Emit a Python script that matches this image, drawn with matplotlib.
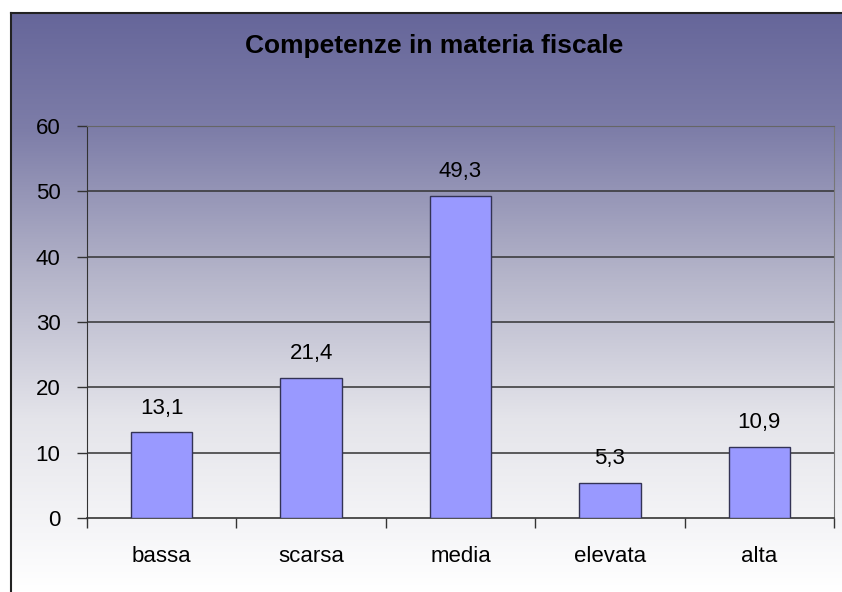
import numpy as np
import matplotlib
matplotlib.use("Agg")
import matplotlib.pyplot as plt
from matplotlib.colors import LinearSegmentedColormap

plt.rcParams['font.family'] = ['Liberation Sans', 'DejaVu Sans']

# chart data
title = "Competenze in materia fiscale"
categories = ["bassa", "scarsa", "media", "elevata", "alta"]
values = [13.1, 21.4, 49.3, 5.3, 10.9]
y_ticks = [0, 10, 20, 30, 40, 50, 60]

W, H = 842, 592
fig = plt.figure(figsize=(W / 100, H / 100), dpi=100)
fig.patch.set_facecolor("white")

# gradient background of the chart area (dark blue-violet on top -> white at bottom)
bg = fig.add_axes([11 / W, 0, 1 - 11 / W, (H - 13) / H], zorder=0)
grad = np.linspace(0, 1, 256).reshape(-1, 1)
cmap = LinearSegmentedColormap.from_list(
    "bg", [(0.0, "#66669a"), (0.2, "#7d7da8"), (0.45, "#b4b4c9"),
           (0.7, "#e4e4ea"), (1.0, "#ffffff")])
bg.imshow(grad, aspect="auto", cmap=cmap, extent=[0, 1, 0, 1], origin="upper")
bg.set_xticks([])
bg.set_yticks([])
for side in ["right", "bottom"]:
    bg.spines[side].set_visible(False)
for side in ["top", "left"]:
    bg.spines[side].set_color("#222222")
    bg.spines[side].set_linewidth(1.5)

ax = fig.add_axes([87 / W, (H - 518) / H, (834 - 87) / W, (518 - 126) / H], zorder=1)
ax.patch.set_alpha(0)

x = np.arange(len(categories))
bars = ax.bar(x, values, width=0.41, color="#9999ff", edgecolor="#333355",
              linewidth=1.0, zorder=3)

for b, v in zip(bars, values):
    ax.annotate(f"{v:.1f}".replace(".", ","),
                (b.get_x() + b.get_width() / 2, b.get_height()),
                xytext=(0, 10), textcoords="offset points",
                ha="center", va="bottom", fontsize=16, color="black")

ax.set_xlim(-0.5, len(categories) - 0.5)
ax.set_ylim(0, 60)
ax.set_yticks(y_ticks)
ax.set_yticklabels([str(t) for t in y_ticks], fontsize=16)
ax.set_xticks(x)
ax.set_xticklabels(categories, fontsize=16)
ax.tick_params(axis="x", length=0, pad=20)
ax.set_xticks(np.arange(len(categories) + 1) - 0.5, minor=True)
ax.tick_params(axis="x", which="minor", length=7, width=1, color="#333333",
               direction="out")
ax.tick_params(axis="y", length=7, width=1, color="#333333", pad=12)

for t in y_ticks[1:-1]:
    ax.axhline(t, color="#333333", linewidth=1.1, zorder=1)

ax.spines["top"].set_color("#666666")
ax.spines["right"].set_color("#777777")
ax.spines["left"].set_color("#333333")
ax.spines["bottom"].set_color("#333333")
ax.spines["bottom"].set_linewidth(1.2)

fig.text(434 / W, 1 - 46 / H, title, ha="center", va="center",
         fontsize=19, fontweight="bold", color="black")

fig.savefig("out.png", dpi=100)
